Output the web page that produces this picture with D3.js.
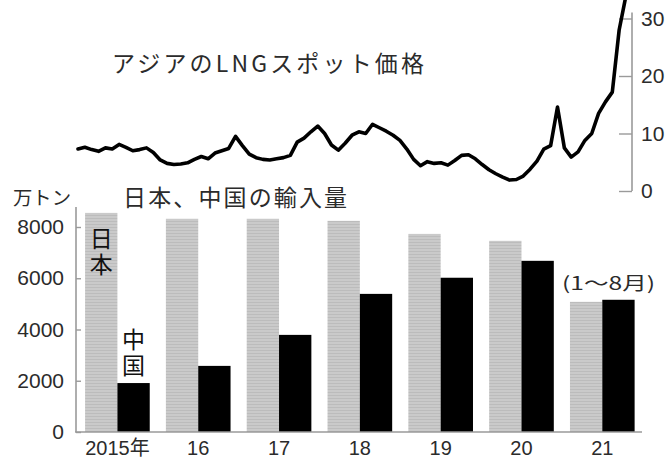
<!DOCTYPE html>
<html>
<head>
<meta charset="utf-8">
<script src="https://cdn.jsdelivr.net/npm/d3@7"></script>
<style>
  body { margin: 0; background: #fff; }
  svg { display: block; }
  text { font-family: "Liberation Sans", Arial, sans-serif; fill: #2b2b2b; }
  .jp { font-family: "Noto Sans CJK JP", sans-serif; }
</style>
</head>
<body>
<div id="chart"></div>
<script>
'use strict';

// Asian LNG spot price, monthly from Jan 2015
var priceValues = [
    7.3, 7.6, 7.2, 6.9, 7.5, 7.3, 8.1, 7.6, 7.0, 7.2, 7.5, 6.7,
    5.4, 4.8, 4.6, 4.7, 4.9, 5.5, 6.0, 5.6, 6.6, 7.0, 7.4, 9.5,
    7.9, 6.4, 5.8, 5.5, 5.4, 5.6, 5.8, 6.2, 8.5, 9.2, 10.3, 11.3,
    10.0, 8.0, 7.1, 8.3, 9.7, 10.3, 10.0, 11.6, 11.0, 10.4, 9.7, 8.8,
    7.3, 5.5, 4.4, 5.1, 4.8, 4.9, 4.5, 5.3, 6.2, 6.3, 5.6, 4.6,
    3.7, 3.0, 2.4, 1.9, 2.0, 2.6, 3.8, 5.2, 7.3, 7.9, 14.6, 7.5,
    5.9, 6.8, 8.8, 10.0, 13.5, 15.5, 17.2, 28.0, 34.0
];
var priceTicks = [0, 10, 20, 30];

// Japan / China LNG imports (10,000 t)
var years = ["2015", "2016", "2017", "2018", "2019", "2020", "2021"];
var yearLabels = ["2015年", "16", "17", "18", "19", "20", "21"];
var japanImports = [8550, 8320, 8320, 8240, 7730, 7460, 5080];
var chinaImports = [1910, 2580, 3790, 5390, 6020, 6680, 5160];
var importTicks = [0, 2000, 4000, 6000, 8000];

var width = 667, height = 465;
var axisColor = "#9a9a9a";

var svg = d3.select("#chart").append("svg")
    .attr("width", width)
    .attr("height", height);

// light grey fill with fine screen lines for the Japan bars
var pattern = svg.append("defs").append("pattern")
    .attr("id", "japanFill")
    .attr("patternUnits", "userSpaceOnUse")
    .attr("width", 4)
    .attr("height", 3);
pattern.append("rect").attr("width", 4).attr("height", 3).attr("fill", "#cacaca");
pattern.append("rect").attr("y", 2).attr("width", 4).attr("height", 1).attr("fill", "#bcbcbc");

function styleAxis(g, fontSize) {
    g.select(".domain").attr("stroke", axisColor).attr("stroke-width", 1.6);
    g.selectAll(".tick line").attr("stroke", axisColor).attr("stroke-width", 1.4);
    g.selectAll(".tick text")
        .attr("fill", "#2b2b2b")
        .style("font-size", fontSize + "px")
        .style("font-family", "'Liberation Sans', Arial, sans-serif");
}

// ---------- price line ----------
var xLine = d3.scaleLinear()
    .domain([0, priceValues.length - 1])
    .range([78, 626]);
var yPrice = d3.scaleLinear()
    .domain([0, 30])
    .range([191, 18.5]);

var line = d3.line()
    .x(function (d, i) { return xLine(i); })
    .y(function (d) { return yPrice(d); });

var priceAxis = svg.append("g")
    .attr("transform", "translate(632,0)")
    .call(d3.axisRight(yPrice)
        .tickValues(priceTicks)
        .tickSizeInner(-13)
        .tickSizeOuter(0)
        .tickPadding(9));
styleAxis(priceAxis, 21);
priceAxis.select(".domain").attr("d", "M0," + (yPrice(30) - 6) + "V" + yPrice(0));

svg.append("path")
    .datum(priceValues)
    .attr("fill", "none")
    .attr("stroke", "#000")
    .attr("stroke-width", 3.6)
    .attr("stroke-linejoin", "round")
    .attr("stroke-linecap", "round")
    .attr("d", line);

svg.append("text")
    .attr("class", "jp")
    .attr("x", 112)
    .attr("y", 72)
    .attr("textLength", 312)
    .attr("lengthAdjust", "spacing")
    .style("font-size", "23px")
    .text("アジアのLNGスポット価格");

// ---------- import bars ----------
var x0 = d3.scaleBand()
    .domain(years)
    .range([77, 642.7])
    .paddingInner(0.2)
    .paddingOuter(0.1);
var x1 = d3.scaleBand()
    .domain(["japan", "china"])
    .range([0, x0.bandwidth()]);
var yImports = d3.scaleLinear()
    .domain([0, 8000])
    .range([432, 227]);
var fill = d3.scaleOrdinal()
    .domain(["japan", "china"])
    .range(["url(#japanFill)", "#000"]);

var rows = years.map(function (y, i) {
    return { year: y, japan: japanImports[i], china: chinaImports[i] };
});

var groups = svg.selectAll(".year")
    .data(rows)
    .enter().append("g")
    .attr("class", "year")
    .attr("transform", function (d) { return "translate(" + x0(d.year) + ",0)"; });

groups.selectAll("rect")
    .data(function (d) {
        return x1.domain().map(function (k) { return { key: k, value: d[k] }; });
    })
    .enter().append("rect")
    .attr("x", function (d) { return x1(d.key); })
    .attr("width", x1.bandwidth())
    .attr("y", function (d) { return yImports(d.value); })
    .attr("height", function (d) { return yImports(0) - yImports(d.value); })
    .attr("fill", function (d) { return fill(d.key); });

// left axis
var importAxis = svg.append("g")
    .attr("transform", "translate(76,0)")
    .call(d3.axisLeft(yImports)
        .tickValues(importTicks)
        .tickFormat(d3.format("d"))
        .tickSizeInner(-5)
        .tickSizeOuter(0)
        .tickPadding(12));
styleAxis(importAxis, 21);
importAxis.select(".domain").attr("d", "M0," + (yImports(8000) - 20) + "V" + yImports(0));

// bottom axis
var yearAxis = svg.append("g")
    .attr("transform", "translate(0," + yImports(0) + ")")
    .call(d3.axisBottom(x0)
        .tickFormat(function (d, i) { return yearLabels[i]; })
        .tickSize(0)
        .tickPadding(9));
styleAxis(yearAxis, 20);
yearAxis.select(".domain").attr("d", "M75,0H642");
yearAxis.selectAll(".tick text").style("font-family", "'Liberation Sans', 'Noto Sans CJK JP', sans-serif");

// labels
svg.append("text")
    .attr("class", "jp")
    .attr("x", 13)
    .attr("y", 205)
    .style("font-size", "19px")
    .attr("textLength", 58)
    .attr("lengthAdjust", "spacingAndGlyphs")
    .text("万トン");

svg.append("text")
    .attr("class", "jp")
    .attr("x", 123)
    .attr("y", 206)
    .attr("textLength", 224)
    .attr("lengthAdjust", "spacing")
    .style("font-size", "23px")
    .text("日本、中国の輸入量");

var japanX = x0(years[0]) + x1("japan") + x1.bandwidth() / 2;
var chinaX = x0(years[0]) + x1("china") + x1.bandwidth() / 2;

// vertical series labels
svg.append("text")
    .attr("class", "jp")
    .attr("x", japanX)
    .attr("y", 227)
    .style("writing-mode", "vertical-rl")
    .style("text-orientation", "upright")
    .style("font-size", "23px")
    .style("letter-spacing", "3px")
    .style("fill", "#111")
    .text("日本");

svg.append("text")
    .attr("class", "jp")
    .attr("x", chinaX)
    .attr("y", 328)
    .style("writing-mode", "vertical-rl")
    .style("text-orientation", "upright")
    .style("font-size", "23px")
    .style("letter-spacing", "3px")
    .style("fill", "#111")
    .text("中国");

svg.append("text")
    .attr("class", "jp")
    .attr("x", 562)
    .attr("y", 290)
    .attr("textLength", 93)
    .attr("lengthAdjust", "spacingAndGlyphs")
    .style("font-size", "18px")
    .text("(1～8月)");
</script>
</body>
</html>
